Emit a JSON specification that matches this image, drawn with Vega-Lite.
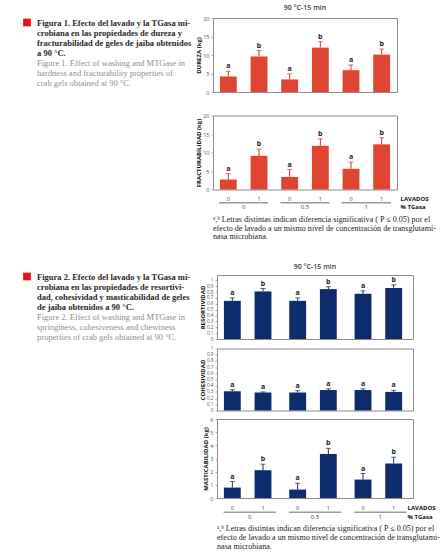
{
 "$schema": "https://vega.github.io/schema/vega-lite/v6.json",
 "padding": {"left": 23, "top": 3, "right": 2, "bottom": 2},
 "background": "white",
 "config": {
  "font": "Open Sans",
  "view": {"stroke": "#8c8c8c", "strokeWidth": 1},
  "axis": {"labelFont": "Open Sans", "labelFontSize": 5.5, "labelColor": "#555555", "labelOverlap": false, "titleFont": "Open Sans", "titleFontSize": 6, "titleFontWeight": "bold", "titleColor": "#111111", "ticks": true, "tickSize": 2, "tickColor": "#9a9a9a", "tickWidth": 0.8, "domain": false, "grid": false, "labelPadding": 2, "titlePadding": 1},
  "axisY": {"labelOverlap": false},
  "axisQuantitative": {"labelOverlap": false}
 },
 "datasets": {
  "leyendas": [
   {"fig": 1, "linea": 1, "idioma": "es", "texto": "Figura 1. Efecto del lavado y la TGasa mi-"},
   {"fig": 1, "linea": 2, "idioma": "es", "texto": "crobiana en las propiedades de dureza y"},
   {"fig": 1, "linea": 3, "idioma": "es", "texto": "fracturabilidad de geles de jaiba obtenidos"},
   {"fig": 1, "linea": 4, "idioma": "es", "texto": "a 90 °C."},
   {"fig": 1, "linea": 5, "idioma": "en", "texto": "Figure 1. Effect of washing and MTGase in"},
   {"fig": 1, "linea": 6, "idioma": "en", "texto": "hardness and fracturability properties of"},
   {"fig": 1, "linea": 7, "idioma": "en", "texto": "crab gels obtained at 90 °C."},
   {"fig": 2, "linea": 1, "idioma": "es", "texto": "Figura 2. Efecto del lavado y la TGasa mi-"},
   {"fig": 2, "linea": 2, "idioma": "es", "texto": "crobiana en las propiedades de resortivi-"},
   {"fig": 2, "linea": 3, "idioma": "es", "texto": "dad, cohesividad y masticabilidad de geles"},
   {"fig": 2, "linea": 4, "idioma": "es", "texto": "de jaiba obtenidos a 90 °C."},
   {"fig": 2, "linea": 5, "idioma": "en", "texto": "Figure 2. Effect of washing and MTGase in"},
   {"fig": 2, "linea": 6, "idioma": "en", "texto": "springiness, cohesiveness and chewiness"},
   {"fig": 2, "linea": 7, "idioma": "en", "texto": "properties of crab gels obtained at 90 °C."}
  ],
  "fig1": [
   {"medida": "DUREZA", "tgasa": "0", "lavado": "0", "valor": 4.2, "sup": 5.6, "letra": "a"},
   {"medida": "DUREZA", "tgasa": "0", "lavado": "1", "valor": 9.6, "sup": 11.2, "letra": "b"},
   {"medida": "DUREZA", "tgasa": "0.5", "lavado": "0", "valor": 3.4, "sup": 4.9, "letra": "a"},
   {"medida": "DUREZA", "tgasa": "0.5", "lavado": "1", "valor": 12.0, "sup": 13.6, "letra": "b"},
   {"medida": "DUREZA", "tgasa": "1", "lavado": "0", "valor": 5.9, "sup": 7.3, "letra": "a"},
   {"medida": "DUREZA", "tgasa": "1", "lavado": "1", "valor": 10.1, "sup": 11.6, "letra": "b"},
   {"medida": "FRACTURABILIDAD", "tgasa": "0", "lavado": "0", "valor": 2.7, "sup": 4.3, "letra": "a"},
   {"medida": "FRACTURABILIDAD", "tgasa": "0", "lavado": "1", "valor": 9.1, "sup": 10.9, "letra": "b"},
   {"medida": "FRACTURABILIDAD", "tgasa": "0.5", "lavado": "0", "valor": 3.4, "sup": 5.4, "letra": "a"},
   {"medida": "FRACTURABILIDAD", "tgasa": "0.5", "lavado": "1", "valor": 11.8, "sup": 13.7, "letra": "b"},
   {"medida": "FRACTURABILIDAD", "tgasa": "1", "lavado": "0", "valor": 5.6, "sup": 7.4, "letra": "a"},
   {"medida": "FRACTURABILIDAD", "tgasa": "1", "lavado": "1", "valor": 12.2, "sup": 14.0, "letra": "b"}
  ],
  "fig2": [
   {"medida": "RESORTIVIDAD", "tgasa": "0", "lavado": "0", "valor": 0.65, "sup": 0.70, "letra": "a"},
   {"medida": "RESORTIVIDAD", "tgasa": "0", "lavado": "1", "valor": 0.81, "sup": 0.86, "letra": "b"},
   {"medida": "RESORTIVIDAD", "tgasa": "0.5", "lavado": "0", "valor": 0.65, "sup": 0.70, "letra": "a"},
   {"medida": "RESORTIVIDAD", "tgasa": "0.5", "lavado": "1", "valor": 0.85, "sup": 0.89, "letra": "b"},
   {"medida": "RESORTIVIDAD", "tgasa": "1", "lavado": "0", "valor": 0.77, "sup": 0.82, "letra": "a"},
   {"medida": "RESORTIVIDAD", "tgasa": "1", "lavado": "1", "valor": 0.87, "sup": 0.92, "letra": "b"},
   {"medida": "COHESIVIDAD", "tgasa": "0", "lavado": "0", "valor": 0.31, "sup": 0.335, "letra": "a"},
   {"medida": "COHESIVIDAD", "tgasa": "0", "lavado": "1", "valor": 0.29, "sup": 0.30, "letra": "a"},
   {"medida": "COHESIVIDAD", "tgasa": "0.5", "lavado": "0", "valor": 0.29, "sup": 0.32, "letra": "a"},
   {"medida": "COHESIVIDAD", "tgasa": "0.5", "lavado": "1", "valor": 0.33, "sup": 0.35, "letra": "a"},
   {"medida": "COHESIVIDAD", "tgasa": "1", "lavado": "0", "valor": 0.33, "sup": 0.35, "letra": "a"},
   {"medida": "COHESIVIDAD", "tgasa": "1", "lavado": "1", "valor": 0.30, "sup": 0.325, "letra": "a"},
   {"medida": "MASTICABILIDAD", "tgasa": "0", "lavado": "0", "valor": 0.79, "sup": 1.25, "letra": "a"},
   {"medida": "MASTICABILIDAD", "tgasa": "0", "lavado": "1", "valor": 2.11, "sup": 2.57, "letra": "b"},
   {"medida": "MASTICABILIDAD", "tgasa": "0.5", "lavado": "0", "valor": 0.64, "sup": 1.12, "letra": "a"},
   {"medida": "MASTICABILIDAD", "tgasa": "0.5", "lavado": "1", "valor": 3.34, "sup": 3.77, "letra": "b"},
   {"medida": "MASTICABILIDAD", "tgasa": "1", "lavado": "0", "valor": 1.40, "sup": 1.86, "letra": "a"},
   {"medida": "MASTICABILIDAD", "tgasa": "1", "lavado": "1", "valor": 2.62, "sup": 3.10, "letra": "b"}
  ],
  "ejes": [
   {"tgasa": "0", "lavado": "0"}, {"tgasa": "0", "lavado": "1"},
   {"tgasa": "0.5", "lavado": "0"}, {"tgasa": "0.5", "lavado": "1"},
   {"tgasa": "1", "lavado": "0"}, {"tgasa": "1", "lavado": "1"}
  ]
 },
 "vconcat": [
  {
   "spacing": 2,
   "hconcat": [
    {
     "width": 170, "height": 70, "view": {"stroke": null},
     "data": {"name": "leyendas"},
     "transform": [{"filter": "datum.fig === 1"}],
     "encoding": {"y": {"field": "linea", "type": "ordinal", "scale": {"type": "point", "padding": 0.5, "align": 0.45}, "axis": null}},
     "layer": [
      {"transform": [{"filter": "datum.linea === 1"}], "mark": {"type": "point", "shape": "square", "filled": true, "size": 60, "color": "#E3151A", "opacity": 1}, "encoding": {"x": {"datum": 4, "type": "quantitative", "scale": {"domain": [0, 170], "nice": false, "zero": false}, "axis": null}}},
      {"transform": [{"filter": "datum.idioma === 'es'"}], "mark": {"type": "text", "align": "left", "font": "Liberation Serif", "fontSize": 8.5, "fontWeight": "bold", "color": "#2a2a2a"}, "encoding": {"x": {"datum": 14, "type": "quantitative"}, "text": {"field": "texto"}}},
      {"transform": [{"filter": "datum.idioma === 'en'"}], "mark": {"type": "text", "align": "left", "font": "Liberation Serif", "fontSize": 8.5, "color": "#8f8f8f"}, "encoding": {"x": {"datum": 14, "type": "quantitative"}, "text": {"field": "texto"}}}
     ]
    },
    {
     "spacing": 16.5,
     "vconcat": [
      {
       "width": 184, "height": 74,
       "title": {"text": "90 °C-15 min", "fontSize": 7, "fontWeight": 600, "color": "#3a3a3a", "offset": 5},
       "data": {"name": "fig1"},
       "transform": [{"filter": "datum.medida === 'DUREZA'"}],
       "encoding": {
        "x": {"field": "tgasa", "type": "nominal", "scale": {"domain": ["0", "0.5", "1"], "paddingInner": 0, "paddingOuter": 0}, "axis": null},
        "xOffset": {"field": "lavado", "type": "nominal", "scale": {"domain": ["0", "1"], "paddingInner": 0.45, "paddingOuter": 0.225}},
        "y": {"field": "valor", "type": "quantitative", "scale": {"domain": [0, 20], "nice": false}, "axis": {"title": "DUREZA (kg)", "values": [0, 5, 10, 15, 20], "labelOverlap": false}}
       },
       "layer": [
        {"mark": {"type": "bar", "color": "#E04432"}},
        {"mark": {"type": "rule", "color": "#C9392A", "strokeWidth": 1}, "encoding": {"y2": {"field": "sup"}}},
        {"mark": {"type": "tick", "color": "#C9392A", "thickness": 1, "size": 5}, "encoding": {"y": {"field": "sup", "type": "quantitative", "axis": {"title": "DUREZA (kg)", "values": [0, 5, 10, 15, 20], "labelOverlap": false}}}},
        {"mark": {"type": "text", "dy": -5, "fontSize": 7, "fontWeight": "bold", "color": "#222222"}, "encoding": {"y": {"field": "sup", "type": "quantitative", "axis": {"title": "DUREZA (kg)", "values": [0, 5, 10, 15, 20], "labelOverlap": false}}, "text": {"field": "letra"}}}
       ]
      },
      {
       "spacing": 1.25,
       "vconcat": [
        {
         "width": 184, "height": 74,
         "data": {"name": "fig1"},
         "transform": [{"filter": "datum.medida === 'FRACTURABILIDAD'"}],
         "encoding": {
          "x": {"field": "tgasa", "type": "nominal", "scale": {"domain": ["0", "0.5", "1"], "paddingInner": 0, "paddingOuter": 0}, "axis": null},
          "xOffset": {"field": "lavado", "type": "nominal", "scale": {"domain": ["0", "1"], "paddingInner": 0.45, "paddingOuter": 0.225}},
          "y": {"field": "valor", "type": "quantitative", "scale": {"domain": [0, 20], "nice": false}, "axis": {"title": "FRACTURABILIDAD  (kg)", "values": [0, 5, 10, 15, 20], "labelOverlap": false}}
         },
         "layer": [
          {"mark": {"type": "bar", "color": "#E04432"}},
          {"mark": {"type": "rule", "color": "#C9392A", "strokeWidth": 1}, "encoding": {"y2": {"field": "sup"}}},
          {"mark": {"type": "tick", "color": "#C9392A", "thickness": 1, "size": 5}, "encoding": {"y": {"field": "sup", "type": "quantitative", "axis": {"title": "FRACTURABILIDAD  (kg)", "values": [0, 5, 10, 15, 20], "labelOverlap": false}}}},
          {"mark": {"type": "text", "dy": -5, "fontSize": 7, "fontWeight": "bold", "color": "#222222"}, "encoding": {"y": {"field": "sup", "type": "quantitative", "axis": {"title": "FRACTURABILIDAD  (kg)", "values": [0, 5, 10, 15, 20], "labelOverlap": false}}, "text": {"field": "letra"}}}
         ]
        },
        {
         "width": 184, "height": 16, "view": {"stroke": null},
         "title": {"text": ["ᵃ,ᵇ Letras distintas indican diferencia significativa ( P ≤ 0.05) por el", "efecto de lavado a un mismo nivel de concentración de transglutami-", "nasa microbiana."], "orient": "bottom", "anchor": "start", "font": "Liberation Serif", "fontSize": 8.1, "fontWeight": "normal", "color": "#222222", "lineHeight": 8.8, "offset": 5},
         "data": {"name": "ejes"},
         "encoding": {"x": {"field": "tgasa", "type": "nominal", "scale": {"domain": ["0", "0.5", "1"], "paddingInner": 0, "paddingOuter": 0}, "axis": null}},
         "layer": [
          {"mark": {"type": "text", "fontSize": 5.5, "color": "#444444"}, "encoding": {"xOffset": {"field": "lavado", "type": "nominal", "scale": {"domain": ["0", "1"], "paddingInner": 0.45, "paddingOuter": 0.225}}, "y": {"datum": "LAVADOS", "type": "nominal", "scale": {"domain": ["LAVADOS", "% TGasa"], "type": "band", "paddingInner": 0, "paddingOuter": 0}, "axis": {"orient": "right", "title": null, "ticks": false, "labelFontWeight": "bold", "labelFontSize": 6, "labelColor": "#111111", "labelPadding": 3}}, "text": {"field": "lavado"}}},
          {"transform": [{"filter": "datum.lavado === '0'"}], "mark": {"type": "rule", "color": "#9a9a9a", "strokeWidth": 1.3}, "encoding": {"x": {"field": "tgasa", "type": "nominal", "bandPosition": 0.1}, "x2": {"field": "tgasa", "bandPosition": 0.9}, "y": {"datum": "% TGasa", "type": "nominal", "bandPosition": 0}}},
          {"transform": [{"filter": "datum.lavado === '0'"}], "mark": {"type": "text", "fontSize": 6, "color": "#444444"}, "encoding": {"y": {"datum": "% TGasa", "type": "nominal"}, "text": {"field": "tgasa"}}}
         ]
        }
       ]
      }
     ]
    }
   ]
  },
  {
   "spacing": 5,
   "hconcat": [
    {
     "width": 170, "height": 70, "view": {"stroke": null},
     "data": {"name": "leyendas"},
     "transform": [{"filter": "datum.fig === 2"}],
     "encoding": {"y": {"field": "linea", "type": "ordinal", "scale": {"type": "point", "padding": 0.5, "align": 0.15}, "axis": null}},
     "layer": [
      {"transform": [{"filter": "datum.linea === 1"}], "mark": {"type": "point", "shape": "square", "filled": true, "size": 60, "color": "#E3151A", "opacity": 1}, "encoding": {"x": {"datum": 4, "type": "quantitative", "scale": {"domain": [0, 170], "nice": false, "zero": false}, "axis": null}}},
      {"transform": [{"filter": "datum.idioma === 'es'"}], "mark": {"type": "text", "align": "left", "font": "Liberation Serif", "fontSize": 8.5, "fontWeight": "bold", "color": "#2a2a2a"}, "encoding": {"x": {"datum": 14, "type": "quantitative"}, "text": {"field": "texto"}}},
      {"transform": [{"filter": "datum.idioma === 'en'"}], "mark": {"type": "text", "align": "left", "font": "Liberation Serif", "fontSize": 8.5, "color": "#8f8f8f"}, "encoding": {"x": {"datum": 14, "type": "quantitative"}, "text": {"field": "texto"}}}
     ]
    },
    {
     "spacing": 2.5,
     "vconcat": [
      {
       "width": 196, "height": 64,
       "title": {"text": "90 °C-15 min", "fontSize": 7, "fontWeight": 600, "color": "#3a3a3a", "offset": 5},
       "data": {"name": "fig2"},
       "transform": [{"filter": "datum.medida === 'RESORTIVIDAD'"}],
       "encoding": {
        "x": {"field": "tgasa", "type": "nominal", "scale": {"domain": ["0", "0.5", "1"], "paddingInner": 0, "paddingOuter": 0}, "axis": null},
        "xOffset": {"field": "lavado", "type": "nominal", "scale": {"domain": ["0", "1"], "paddingInner": 0.43, "paddingOuter": 0.215}},
        "y": {"field": "valor", "type": "quantitative", "scale": {"domain": [0, 1.09], "nice": false}, "axis": {"title": "RESORTIVIDAD", "values": [0, 0.1, 0.2, 0.3, 0.4, 0.5, 0.6, 0.7, 0.8, 0.9, 1], "format": "~g", "labelOverlap": false, "labelFontSize": 4.7}}
       },
       "layer": [
        {"mark": {"type": "bar", "color": "#0D2C6B"}},
        {"mark": {"type": "rule", "color": "#0D2C6B", "strokeWidth": 1}, "encoding": {"y2": {"field": "sup"}}},
        {"mark": {"type": "tick", "color": "#0D2C6B", "thickness": 1, "size": 5}, "encoding": {"y": {"field": "sup", "type": "quantitative", "axis": {"title": "RESORTIVIDAD", "values": [0, 0.1, 0.2, 0.3, 0.4, 0.5, 0.6, 0.7, 0.8, 0.9, 1], "format": "~g", "labelOverlap": false, "labelFontSize": 4.7}}}},
        {"mark": {"type": "text", "dy": -5, "fontSize": 7, "fontWeight": "bold", "color": "#222222"}, "encoding": {"y": {"field": "sup", "type": "quantitative", "axis": {"title": "RESORTIVIDAD", "values": [0, 0.1, 0.2, 0.3, 0.4, 0.5, 0.6, 0.7, 0.8, 0.9, 1], "format": "~g", "labelOverlap": false, "labelFontSize": 4.7}}, "text": {"field": "letra"}}}
       ]
      },
      {
       "width": 196, "height": 62,
       "data": {"name": "fig2"},
       "transform": [{"filter": "datum.medida === 'COHESIVIDAD'"}],
       "encoding": {
        "x": {"field": "tgasa", "type": "nominal", "scale": {"domain": ["0", "0.5", "1"], "paddingInner": 0, "paddingOuter": 0}, "axis": null},
        "xOffset": {"field": "lavado", "type": "nominal", "scale": {"domain": ["0", "1"], "paddingInner": 0.43, "paddingOuter": 0.215}},
        "y": {"field": "valor", "type": "quantitative", "scale": {"domain": [0, 1], "nice": false}, "axis": {"title": "COHESIVIDAD", "values": [0, 0.1, 0.2, 0.3, 0.4, 0.5, 0.6, 0.7, 0.8, 0.9, 1], "format": "~g", "labelOverlap": false, "labelFontSize": 4.7}}
       },
       "layer": [
        {"mark": {"type": "bar", "color": "#0D2C6B"}},
        {"mark": {"type": "rule", "color": "#0D2C6B", "strokeWidth": 1}, "encoding": {"y2": {"field": "sup"}}},
        {"mark": {"type": "tick", "color": "#0D2C6B", "thickness": 1, "size": 5}, "encoding": {"y": {"field": "sup", "type": "quantitative", "axis": {"title": "COHESIVIDAD", "values": [0, 0.1, 0.2, 0.3, 0.4, 0.5, 0.6, 0.7, 0.8, 0.9, 1], "format": "~g", "labelOverlap": false, "labelFontSize": 4.7}}}},
        {"mark": {"type": "text", "dy": -5, "fontSize": 7, "fontWeight": "bold", "color": "#222222"}, "encoding": {"y": {"field": "sup", "type": "quantitative", "axis": {"title": "COHESIVIDAD", "values": [0, 0.1, 0.2, 0.3, 0.4, 0.5, 0.6, 0.7, 0.8, 0.9, 1], "format": "~g", "labelOverlap": false, "labelFontSize": 4.7}}, "text": {"field": "letra"}}}
       ]
      },
      {
       "spacing": 1.25,
       "vconcat": [
        {
         "width": 196, "height": 79,
         "data": {"name": "fig2"},
         "transform": [{"filter": "datum.medida === 'MASTICABILIDAD'"}],
         "encoding": {
          "x": {"field": "tgasa", "type": "nominal", "scale": {"domain": ["0", "0.5", "1"], "paddingInner": 0, "paddingOuter": 0}, "axis": null},
          "xOffset": {"field": "lavado", "type": "nominal", "scale": {"domain": ["0", "1"], "paddingInner": 0.43, "paddingOuter": 0.215}},
          "y": {"field": "valor", "type": "quantitative", "scale": {"domain": [0, 6], "nice": false}, "axis": {"title": "MASTICABILIDAD (kg)", "values": [0, 1, 2, 3, 4, 5, 6], "labelOverlap": false}}
         },
         "layer": [
          {"mark": {"type": "bar", "color": "#0D2C6B"}},
          {"mark": {"type": "rule", "color": "#0D2C6B", "strokeWidth": 1}, "encoding": {"y2": {"field": "sup"}}},
          {"mark": {"type": "tick", "color": "#0D2C6B", "thickness": 1, "size": 5}, "encoding": {"y": {"field": "sup", "type": "quantitative", "axis": {"title": "MASTICABILIDAD (kg)", "values": [0, 1, 2, 3, 4, 5, 6], "labelOverlap": false}}}},
          {"mark": {"type": "text", "dy": -5, "fontSize": 7, "fontWeight": "bold", "color": "#222222"}, "encoding": {"y": {"field": "sup", "type": "quantitative", "axis": {"title": "MASTICABILIDAD (kg)", "values": [0, 1, 2, 3, 4, 5, 6], "labelOverlap": false}}, "text": {"field": "letra"}}}
         ]
        },
        {
         "width": 196, "height": 18, "view": {"stroke": null},
         "title": {"text": ["ᵃ,ᵇ Letras distintas indican diferencia significativa ( P ≤ 0.05) por el", "efecto de lavado a un mismo nivel de concentración de transglutami-", "nasa microbiana."], "orient": "bottom", "anchor": "start", "font": "Liberation Serif", "fontSize": 8.1, "fontWeight": "normal", "color": "#222222", "lineHeight": 8.8, "offset": 4},
         "data": {"name": "ejes"},
         "encoding": {"x": {"field": "tgasa", "type": "nominal", "scale": {"domain": ["0", "0.5", "1"], "paddingInner": 0, "paddingOuter": 0}, "axis": null}},
         "layer": [
          {"mark": {"type": "text", "fontSize": 5.5, "color": "#444444"}, "encoding": {"xOffset": {"field": "lavado", "type": "nominal", "scale": {"domain": ["0", "1"], "paddingInner": 0.43, "paddingOuter": 0.215}}, "y": {"datum": "LAVADOS", "type": "nominal", "scale": {"domain": ["LAVADOS", "% TGasa"], "type": "band", "paddingInner": 0, "paddingOuter": 0}, "axis": {"orient": "right", "title": null, "ticks": false, "labelFontWeight": "bold", "labelFontSize": 6, "labelColor": "#111111", "labelPadding": -6}}, "text": {"field": "lavado"}}},
          {"transform": [{"filter": "datum.lavado === '0'"}], "mark": {"type": "rule", "color": "#9a9a9a", "strokeWidth": 1.3}, "encoding": {"x": {"field": "tgasa", "type": "nominal", "bandPosition": 0.1}, "x2": {"field": "tgasa", "bandPosition": 0.9}, "y": {"datum": "% TGasa", "type": "nominal", "bandPosition": 0}}},
          {"transform": [{"filter": "datum.lavado === '0'"}], "mark": {"type": "text", "fontSize": 6, "color": "#444444"}, "encoding": {"y": {"datum": "% TGasa", "type": "nominal"}, "text": {"field": "tgasa"}}}
         ]
        }
       ]
      }
     ]
    }
   ]
  }
 ],
 "spacing": 20
}
